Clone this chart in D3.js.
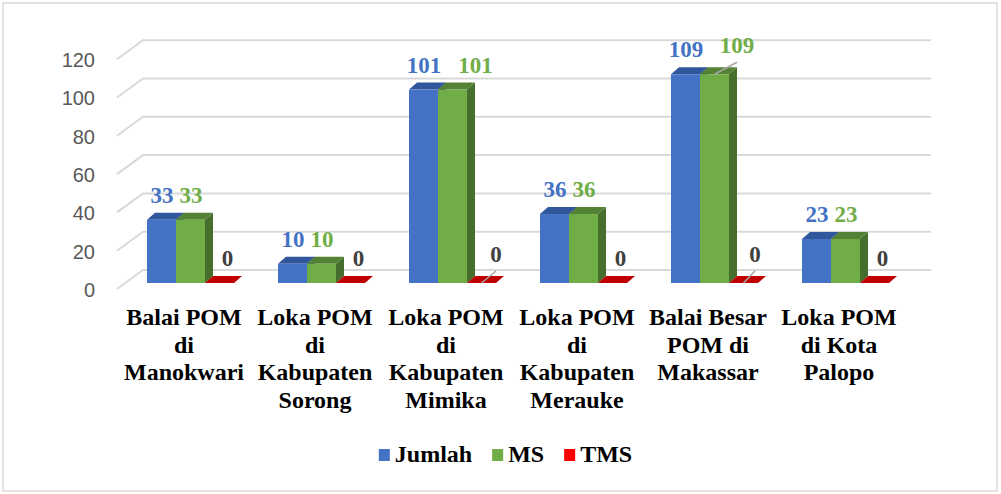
<!DOCTYPE html>
<html>
<head>
<meta charset="utf-8">
<script src="https://cdn.jsdelivr.net/npm/d3@7/dist/d3.min.js"></script>
<style>
  body { margin: 0; background: #fff; }
  svg { display: block; }
  .serif { font-family: "Liberation Serif", "Times New Roman", Times, serif; font-weight: bold; }
</style>
</head>
<body>
<svg width="1001" height="494"></svg>
<script>
// data
var categories = ["Balai POM di Manokwari", "Loka POM di Kabupaten Sorong", "Loka POM di Kabupaten Mimika",
  "Loka POM di Kabupaten Merauke", "Balai Besar POM di Makassar", "Loka POM di Kota Palopo"];
var categoryLines = [
  ["Balai POM", "di", "Manokwari"],
  ["Loka POM", "di", "Kabupaten", "Sorong"],
  ["Loka POM", "di", "Kabupaten", "Mimika"],
  ["Loka POM", "di", "Kabupaten", "Merauke"],
  ["Balai Besar", "POM di", "Makassar"],
  ["Loka POM", "di Kota", "Palopo"]
];
var seriesNames = ["Jumlah", "MS", "TMS"];
var jumlah = [33, 10, 101, 36, 109, 23];
var ms = [33, 10, 101, 36, 109, 23];
var tms = [0, 0, 0, 0, 0, 0];
var yTicks = [0, 20, 40, 60, 80, 100, 120];

var seriesValues = [jumlah, ms, tms];
var colors = {
  Jumlah: {front: "#4472C4", top: "#30569C", side: "#30569C", label: "#4472C4", legend: "#4472C4"},
  MS: {front: "#70AD47", top: "#548235", side: "#466F2D", label: "#70AD47", legend: "#70AD47"},
  TMS: {front: "#FF0000", top: "#C00000", side: "#A00000", label: "#404040", legend: "#FF0000"}
};

var svg = d3.select("svg");

svg.append("rect")
  .attr("x", 3).attr("y", 3).attr("width", 994).attr("height", 488)
  .attr("fill", "#fff").attr("stroke", "#D9D9D9").attr("stroke-width", 1.5);

var y = d3.scaleLinear().domain([0, 120]).range([283, 283 - 120 * 1.915]);
var x0 = d3.scaleBand().domain(categories).range([125.5, 911.5]);
var x1 = d3.scaleBand().domain(seriesNames).range([0, 87]);
var dx = 8, dy = -7;

// walls: gridlines on back wall plus the side wall diagonals
var grid = svg.append("g").attr("stroke", "#D9D9D9").attr("stroke-width", 2).attr("fill", "none");
yTicks.forEach(function(v) {
  grid.append("polyline")
    .attr("points", [[117, y(v) + 6], [143, y(v) - 13], [931, y(v) - 13]].join(" "));
});

// y axis labels
var yAxis = d3.axisLeft(y).tickValues(yTicks).tickSize(0).tickPadding(8);
var ya = svg.append("g").attr("transform", "translate(103,7)").call(yAxis);
ya.select(".domain").remove();
ya.selectAll("text")
  .attr("fill", "#595959")
  .attr("font-family", "Liberation Sans, Arial, sans-serif")
  .attr("font-size", 20);

// bars
var nudges = {
  "2,1": {dx: 23, dy: 0, leader: false},
  "2,2": {dx: 14.5, dy: -4, leader: true},
  "4,1": {dx: 22.5, dy: -4, leader: true},
  "4,2": {dx: 11.5, dy: -4, leader: true}
};

var bars = svg.append("g");
var labels = svg.append("g");
categories.forEach(function(cat, i) {
  seriesNames.forEach(function(s, j) {
    var v = seriesValues[j][i];
    var bx = x0(cat) + 21.5 + x1(s);
    var w = x1.bandwidth();
    var top = y(v), base = y(0);
    var c = colors[s];
    var g = bars.append("g");
    if (base > top) {
      g.append("polygon").attr("fill", c.side)
        .attr("points", [[bx + w, top], [bx + w + dx, top + dy], [bx + w + dx, base + dy], [bx + w, base]].join(" "));
    }
    g.append("polygon").attr("fill", c.top)
      .attr("points", [[bx, top], [bx + dx, top + dy], [bx + w + dx, top + dy], [bx + w, top]].join(" "));
    if (base > top) {
      g.append("rect").attr("fill", c.front)
        .attr("x", bx).attr("y", top).attr("width", w).attr("height", base - top);
    }

    var cx = bx + w / 2;
    var n = nudges[i + "," + j] || {dx: j == 2 ? 8 : 0.5, dy: 0, leader: false};
    var lx = cx + n.dx, ly = top + dy - 10 + n.dy;
    if (n.leader) {
      labels.append("line")
        .attr("x1", cx).attr("y1", top).attr("x2", lx).attr("y2", ly + 9)
        .attr("stroke", "#A6A6A6").attr("stroke-width", 1.5);
    }
    labels.append("text")
      .attr("class", "serif")
      .attr("x", lx).attr("y", ly)
      .attr("text-anchor", "middle")
      .attr("fill", c.label)
      .attr("font-size", 23)
      .text(v);
  });
});

// category labels
var xl = svg.append("g");
categories.forEach(function(cat, i) {
  var t = xl.append("text")
    .attr("class", "serif")
    .attr("text-anchor", "middle")
    .attr("fill", "#000")
    .attr("font-size", 24);
  categoryLines[i].forEach(function(line, k) {
    t.append("tspan")
      .attr("x", x0(cat) + x0.bandwidth() / 2 - 7)
      .attr("y", 325 + k * 27.5)
      .text(line);
  });
});

// legend
var legend = svg.append("g");
var pos = 0;
seriesNames.forEach(function(s) {
  var it = legend.append("g");
  it.append("rect").attr("x", 0).attr("y", 449).attr("width", 11).attr("height", 12)
    .attr("fill", colors[s].legend);
  var tx = it.append("text").attr("class", "serif").attr("x", 16).attr("y", 462)
    .attr("fill", "#000")
    .attr("font-size", 24)
    .text(s);
  var wd = 16 + tx.node().getComputedTextLength();
  it.attr("transform", "translate(" + pos + ",0)");
  pos += wd + 20;
});
var total = pos - 20;
legend.attr("transform", "translate(" + (505.5 - total / 2) + ",0)");
</script>
</body>
</html>
